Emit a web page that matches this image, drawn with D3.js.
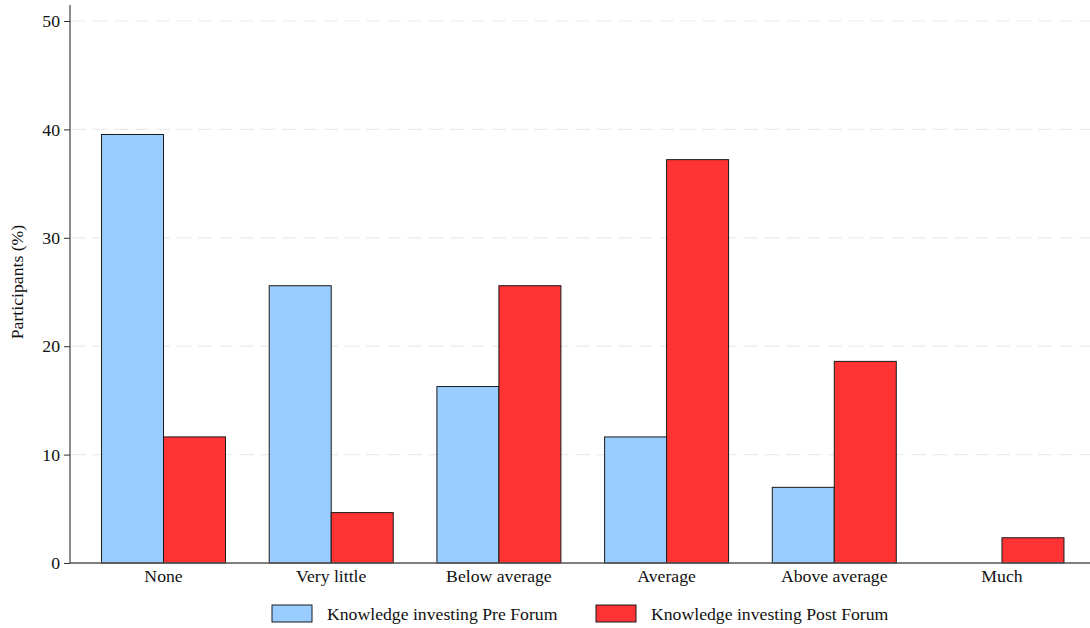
<!DOCTYPE html>
<html><head><meta charset="utf-8">
<script src="https://cdn.jsdelivr.net/npm/d3@7"></script>
<style>body{margin:0;background:#fff}svg{display:block}</style>
</head><body>
<svg id="chart" width="1090" height="628"></svg>
<script>
const categories = ["None","Very little","Below average","Average","Above average","Much"];
const preForum = [39.53, 25.58, 16.28, 11.63, 6.98, 0];
const postForum = [11.63, 4.65, 25.58, 37.21, 18.60, 2.33];
const seriesNames = ["Knowledge investing Pre Forum","Knowledge investing Post Forum"];
const seriesColors = ["#99ccff","#ff3333"];
const yTicks = [0,10,20,30,40,50];

const FONT = "'Liberation Serif'";
const FS = "17.7px";
const svg = d3.select("#chart");
const x0 = 70, x1 = 1095.5, yTop = 21, yBot = 563;

const x = d3.scaleBand().domain(categories).range([x0, x1]).paddingInner(0.2606).paddingOuter(0.188);
const xs = d3.scaleBand().domain([0,1]).range([0, x.bandwidth()]);
const y = d3.scaleLinear().domain([0,50]).range([yBot, yTop]);

// gridlines
svg.append("g").selectAll("line").data(yTicks.filter(d=>d>0)).join("line")
  .attr("x1", x0+2).attr("x2", 1090)
  .attr("y1", d=>y(d)).attr("y2", d=>y(d))
  .attr("stroke", "#ebebeb").attr("stroke-width", 1.2).attr("stroke-dasharray", "14,7");

// bars
const data = categories.map((c,i)=>({c, v:[preForum[i], postForum[i]]}));
const g = svg.append("g");
data.forEach(d=>{
  d.v.forEach((v,s)=>{
    if (v<=0) return;
    g.append("rect")
      .attr("x", x(d.c)+xs(s)).attr("width", xs.bandwidth())
      .attr("y", y(v)).attr("height", y(0)-y(v))
      .attr("fill", seriesColors[s]).attr("stroke", "#1a1a1a").attr("stroke-width", 1);
  });
});

// y axis
const yAxis = svg.append("g").attr("transform", `translate(${x0},0)`)
  .call(d3.axisLeft(y).tickValues(yTicks).tickSize(6).tickPadding(4));
yAxis.select(".domain").attr("d", `M0,5V${yBot}`).attr("stroke","#666").attr("stroke-width",1.5);
yAxis.selectAll(".tick line").attr("stroke","#333");
yAxis.selectAll(".tick text").style("font-family", FONT).style("font-size", FS).attr("fill","#111");

// x axis
const xAxis = svg.append("g").attr("transform", `translate(0,${yBot})`)
  .call(d3.axisBottom(x).tickSize(0).tickPadding(6));
xAxis.select(".domain").attr("d", `M${x0},0H1090`).attr("stroke","#555").attr("stroke-width",1.5);
xAxis.selectAll(".tick text").style("font-family", FONT).style("font-size", FS).attr("fill","#111");

// y label
svg.append("text").attr("transform", "translate(23,282) rotate(-90)")
  .attr("text-anchor","middle").style("font-family", FONT).style("font-size", FS).attr("fill","#111")
  .text("Participants (%)");

// legend
const legX = [272, 596];
seriesNames.forEach((n,i)=>{
  svg.append("rect").attr("x", legX[i]).attr("y", 605).attr("width", 40).attr("height", 17)
    .attr("fill", seriesColors[i]).attr("stroke", "#1a1a1a").attr("stroke-width", 1);
  svg.append("text").attr("x", legX[i]+55).attr("y", 619.5)
    .style("font-family", FONT).style("font-size", FS).attr("fill","#111").text(n);
});
</script>
</body></html>
